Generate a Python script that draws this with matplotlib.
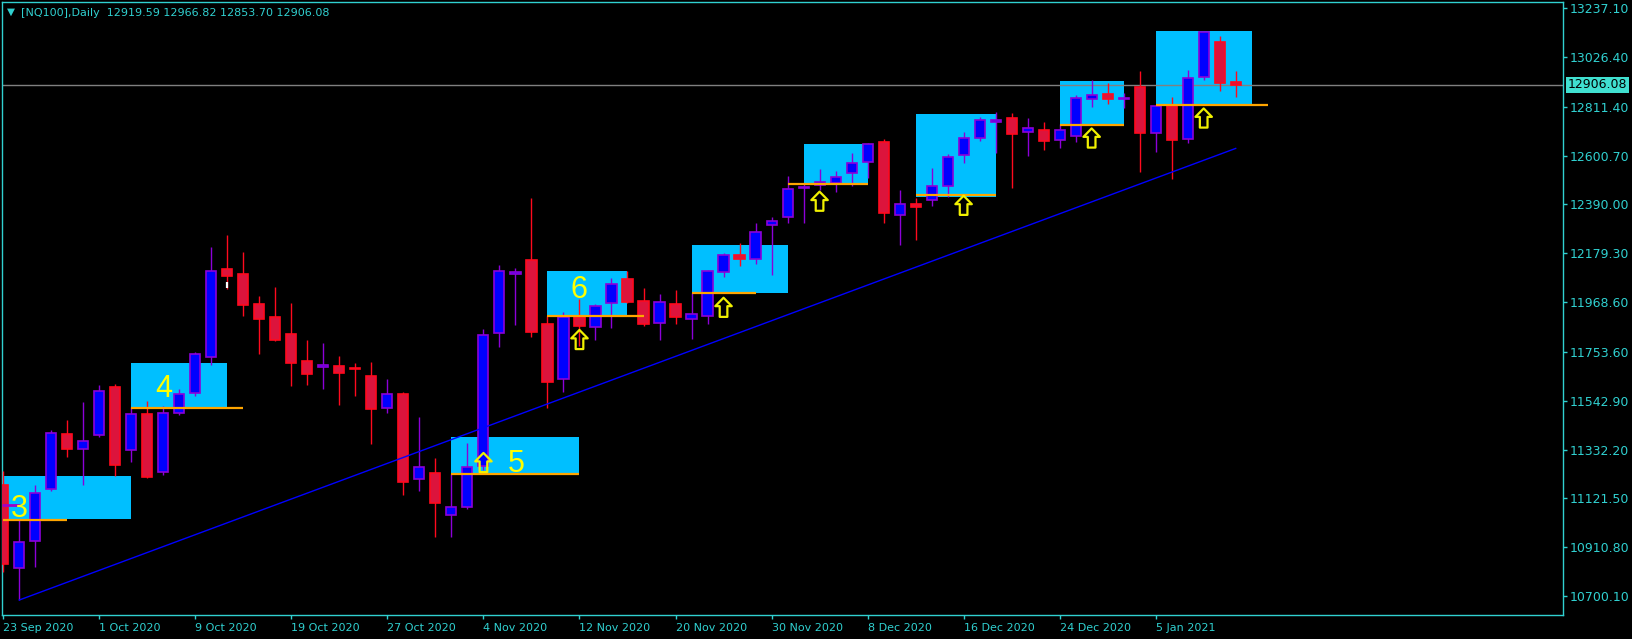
import matplotlib
matplotlib.use('Agg')
import matplotlib.pyplot as plt
from matplotlib.patches import Rectangle
from matplotlib.path import Path
import numpy as np

# NQ100 daily bars, 23 Sep 2020 .. 12 Jan 2021
opens = [11177.9, 10819.7, 10936.2, 11160.7, 11399.4, 11333.3, 11393.7, 11600.9, 11329.0, 11485.7,
         11234.1, 11488.7, 11575.0, 11733.0, 12110.2, 12089.9, 11960.4, 11904.3, 11831.0, 11714.4,
         11687.2, 11692.8, 11685.1, 11649.7, 11512.9, 11572.0, 11203.8, 11229.7, 11048.5, 11083.0,
         11261.2, 11836.6, 12092.1, 12150.3, 11874.1, 11638.0, 11905.6, 11862.5, 11963.5, 12068.3,
         11973.4, 11877.1, 11960.4, 11894.4, 11909.9, 12097.3, 12170.6, 12155.9, 12300.1, 12334.6,
         12459.8, 12472.7, 12484.0, 12524.5, 12572.0, 12658.3, 12343.3, 12390.7, 12408.0, 12468.4,
         12602.2, 12675.6, 12744.7, 12761.9, 12701.5, 12710.1, 12667.0, 12684.2, 12846.5, 12866.8,
         12847.4, 12895.7, 12697.2, 12816.3, 12671.3, 12938.9, 13091.2, 12919.59]
highs = [11239.7, 11028.2, 11177.9, 11416.6, 11459.8, 11537.5, 11610.8, 11615.2, 11515.9, 11540.5,
         11520.2, 11593.6, 11753.3, 12206.4, 12258.2, 12184.9, 11995.0, 12033.8, 11964.8, 11805.1,
         11792.1, 11737.3, 11705.8, 11710.1, 11636.7, 11579.3, 11472.7, 11295.8, 11226.7, 11360.5,
         11852.5, 12128.8, 12115.8, 12417.9, 11908.6, 11924.6, 11982.0, 11960.4, 12071.3, 12102.9,
         12029.5, 12003.6, 12020.9, 12007.9, 12107.2, 12180.6, 12223.7, 12310.0, 12335.9, 12512.9,
         12478.4, 12543.1, 12534.5, 12612.2, 12656.6, 12672.6, 12452.5, 12416.6, 12546.1, 12606.5,
         12702.8, 12766.2, 12789.1, 12784.8, 12763.2, 12745.9, 12737.3, 12862.5, 12925.9, 12914.3,
         12869.8, 12966.1, 12815.0, 12853.8, 12970.4, 13134.4, 13117.1, 12966.82]
lows = [10805.0, 10682.9, 10826.6, 11154.6, 11301.4, 11180.5, 11387.7, 11218.1, 11279.8, 11210.7,
        11222.4, 11482.7, 11564.7, 11697.2, 12025.2, 11908.6, 11744.6, 11800.7, 11606.5, 11610.8,
        11593.6, 11524.5, 11564.7, 11356.2, 11491.3, 11136.1, 11154.6, 10956.1, 10956.1, 11077.0,
        11244.0, 11776.1, 11869.8, 11819.3, 11512.9, 11581.9, 11780.5, 11805.1, 11858.2, 11964.8,
        11866.8, 11806.4, 11875.4, 11810.7, 11875.4, 12078.3, 12125.7, 12134.4, 12086.9, 12311.3,
        12311.3, 12452.5, 12445.1, 12471.0, 12504.3, 12308.7, 12216.4, 12238.0, 12384.7, 12420.9,
        12570.3, 12665.2, 12610.9, 12462.4, 12600.5, 12626.4, 12635.0, 12660.9, 12812.0, 12824.9,
        12805.1, 12531.4, 12617.8, 12501.2, 12656.6, 12927.2, 12881.0, 12853.70]
closes = [10839.6, 10931.9, 11143.4, 11402.4, 11333.3, 11367.8, 11583.6, 11266.9, 11484.4, 11215.1,
          11488.7, 11570.7, 11743.3, 12101.6, 12082.6, 11956.1, 11895.7, 11806.4, 11707.1, 11659.6,
          11697.2, 11663.9, 11681.6, 11508.5, 11572.0, 11193.5, 11255.6, 11100.3, 11084.3, 11255.6,
          11825.4, 12101.6, 12098.5, 11840.9, 11625.1, 11905.6, 11866.8, 11951.8, 12045.5, 11970.4,
          11875.4, 11967.8, 11905.6, 11916.0, 12102.9, 12170.6, 12155.9, 12269.9, 12317.4, 12455.5,
          12464.1, 12485.7, 12507.3, 12567.7, 12649.7, 12351.9, 12390.7, 12377.8, 12468.4, 12593.6,
          12675.6, 12753.3, 12753.3, 12692.9, 12718.8, 12662.7, 12710.1, 12848.2, 12861.2, 12846.5,
          12848.7, 12699.8, 12813.7, 12667.0, 12934.6, 13133.1, 12913.0, 12906.08]

date_labels = ['23 Sep 2020', '1 Oct 2020', '9 Oct 2020', '19 Oct 2020', '27 Oct 2020',
               '4 Nov 2020', '12 Nov 2020', '20 Nov 2020', '30 Nov 2020', '8 Dec 2020',
               '16 Dec 2020', '24 Dec 2020', '5 Jan 2021']
price_ticks = [13237.10, 13026.40, 12811.40, 12600.70, 12390.00, 12179.30, 11968.60,
               11753.60, 11542.90, 11332.20, 11121.50, 10910.80, 10700.10]
last_price = 12906.08

# zones (bar index from/to, price top/bottom) and their level lines
box_left = [0, 8, 28, 34, 43, 50, 57, 66, 72]
box_right = [8, 14, 36, 39, 49, 54, 62, 70, 78]
box_top = [11218.1, 11705.8, 11386.4, 12104.2, 12215.1, 12651.0, 12780.5, 12922.9, 13138.7]
box_bottom = [11033.8, 11510.3, 11228.0, 11913.0, 12009.2, 12478.4, 12423.5, 12731.7, 12822.7]
level_start = [0, 8, 28, 34, 43, 49, 57, 66, 72]
level_end = [4, 15, 36, 40, 47, 54, 62, 70, 79]
level_price = [11028.2, 11512.9, 11226.7, 11909.9, 12007.9, 12478.4, 12432.2, 12734.3, 12821.0]

zone_labels = ['3', '4', '5', '6']
zone_label_x = [1.03, 10.0, 32.06, 36.0]
zone_label_y = [11042.4, 11557.7, 11236.6, 11985.0]

arrow_bar = [30, 36, 45, 51, 60, 68, 75]
arrow_price = [11276.3, 11807.2, 11946.2, 12404.1, 12386.4, 12676.9, 12763.2]

trend_x = [1, 77]
trend_y = [10682.9, 12632.0]

fg = '#30D0D0'

fig = plt.figure(figsize=(16.33, 6.39), dpi=100, facecolor='black')
ax = fig.add_axes([2 / 1633, 24 / 639, 1561 / 1633, 613 / 639])
ax.set_facecolor('black')

# zones
for l, r, t, b in zip(box_left, box_right, box_top, box_bottom):
    ax.add_patch(Rectangle((l, b), r - l, t - b, facecolor='#00BFFF', edgecolor='none', zorder=1))

# current price line
ax.axhline(last_price, color='#808080', lw=1, zorder=2)

# candles
x = np.arange(len(opens))
o = np.array(opens)
h = np.array(highs)
lo = np.array(lows)
c = np.array(closes)
up = c >= o
body_bot = np.minimum(o, c)
body_h = np.maximum(np.abs(c - o), 0.5)

bull_edge = '#8C00D8'
bear_edge = '#FF0A1E'
ax.vlines(x[up], lo[up], h[up], color=bull_edge, lw=1, zorder=3)
ax.vlines(x[~up], lo[~up], h[~up], color=bear_edge, lw=1, zorder=3)
ax.bar(x[up], body_h[up], bottom=body_bot[up], width=0.63, color='#0000FF',
       edgecolor=bull_edge, linewidth=1.2, zorder=4)
ax.bar(x[~up], body_h[~up], bottom=body_bot[~up], width=0.63, color='#DC143C',
       edgecolor=bear_edge, linewidth=1.2, zorder=4)

# small marks
ax.vlines(14, 12030.8, 12055.4, color='white', lw=1.6, zorder=5)
ax.hlines(11093.0, -0.1, 1.05, color='#A000C8', lw=2, zorder=5)

# trend line
ax.plot(trend_x, trend_y, color='#0000FF', lw=1, zorder=5)

# level lines
ax.hlines(level_price, level_start, level_end, color='#FFA500', lw=1.6, zorder=6)

# zone numbers
for txt, tx, ty in zip(zone_labels, zone_label_x, zone_label_y):
    ax.text(tx, ty, txt, color='#FFFF00', fontsize=22, family='Liberation Sans',
            ha='center', va='baseline', zorder=7)

# hollow up arrows
arrow_path = Path([(0, 1), (-0.86, 0.12), (-0.4, 0.12), (-0.4, -1), (0.4, -1),
                   (0.4, 0.12), (0.86, 0.12), (0, 1)],
                  [Path.MOVETO] + [Path.LINETO] * 6 + [Path.CLOSEPOLY])
ax.scatter(arrow_bar, arrow_price, marker=arrow_path, s=190, facecolors='none',
           edgecolors='#F0F000', linewidths=1.6, zorder=8)

ax.set_xlim(-0.081, 97.45)
ax.set_ylim(10618.2, 13263.9)

ax.set_xticks(np.arange(0, 73, 6))
ax.set_xticklabels(date_labels, ha='left')
ax.yaxis.tick_right()
ax.set_yticks(price_ticks)
ax.set_yticklabels(['%.2f' % p for p in price_ticks])
ax.tick_params(axis='both', colors=fg, length=3, width=1, direction='out')
ax.tick_params(axis='x', labelsize=8, pad=3)
ax.tick_params(axis='y', labelsize=9, pad=2)
for sp in ax.spines.values():
    sp.set_color(fg)
    sp.set_linewidth(1)

# price label on the axis
ax.annotate('%.2f' % last_price, xy=(1, last_price), xycoords=('axes fraction', 'data'),
            xytext=(3.5, 0), textcoords='offset points', ha='left', va='center',
            fontsize=9, color='black',
            bbox=dict(boxstyle='square,pad=0.15', facecolor='#40E0D0', edgecolor='none'),
            annotation_clip=False, zorder=10)

# header
fig.text(11 / 1633, 1 - 12 / 639, '\u25bc', color=fg, fontsize=7.5, ha='center', va='center')
fig.text(21 / 1633, 1 - 12.5 / 639,
         '[NQ100],Daily  %.2f %.2f %.2f %.2f' % (opens[-1], highs[-1], lows[-1], closes[-1]),
         color=fg, fontsize=8, ha='left', va='center')

plt.savefig('out.png', dpi=100, facecolor='black')
